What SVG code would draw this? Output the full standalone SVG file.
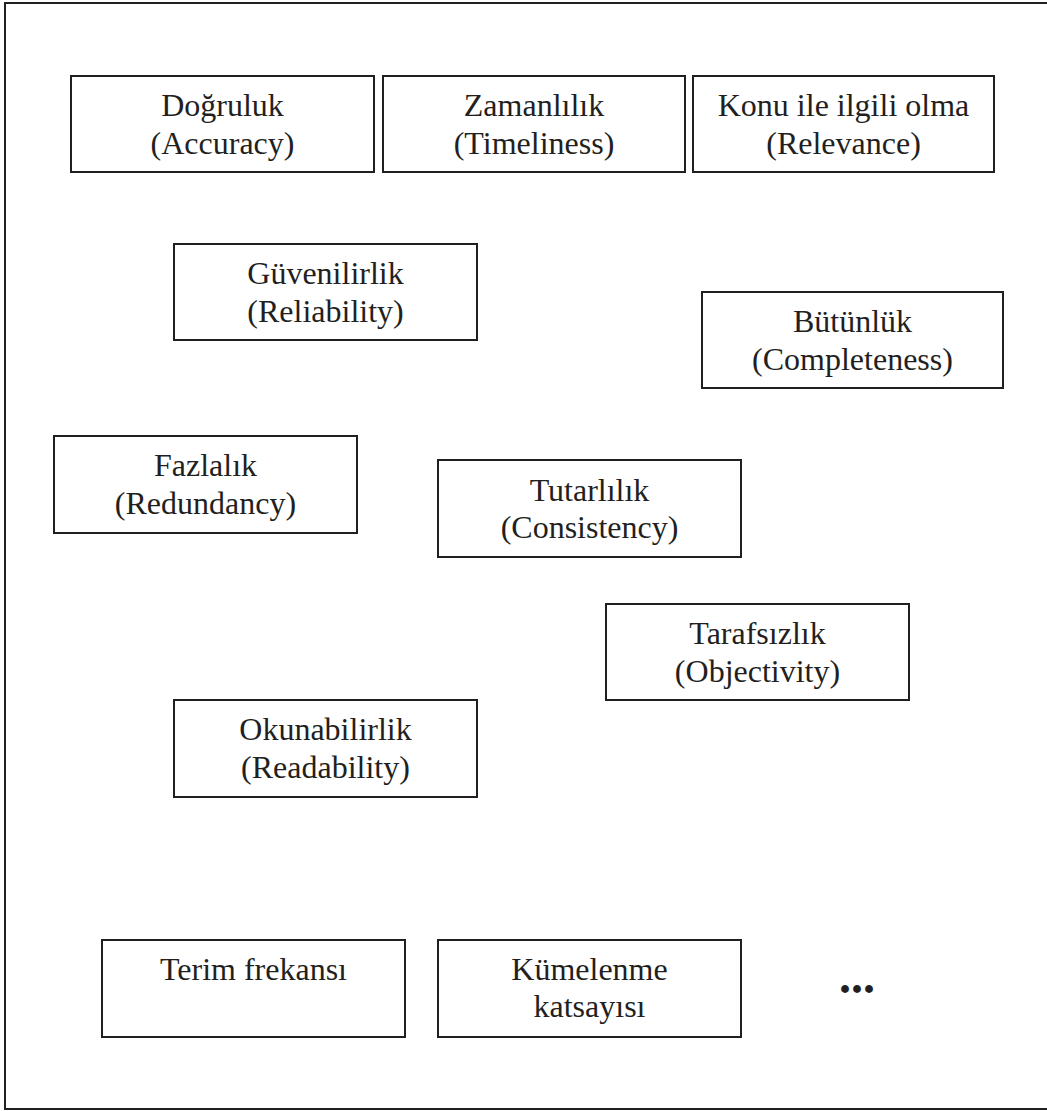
<svg xmlns="http://www.w3.org/2000/svg" width="1047" height="1111" viewBox="0 0 1047 1111">
<style>
.box{fill:#fff;stroke:#231f20;stroke-width:2}
.t{font-family:"Liberation Serif","Times New Roman",serif;font-size:32px;fill:#231f20;text-anchor:middle}
.frame{fill:none;stroke:#231f20;stroke-width:2}
</style>
<rect width="1047" height="1111" fill="#fff"/>
<path class="frame" d="M1048,3 H5 V1109 H1048"/>
<g id="connectors"></g>
<g id="dogruluk"><rect class="box" x="71" y="76" width="303" height="96"/><text class="t" x="222.5" y="116">Doğruluk</text><text class="t" x="222.5" y="154">(Accuracy)</text></g>
<g id="zamanlilik"><rect class="box" x="383" y="76" width="302" height="96"/><text class="t" x="534" y="116">Zamanlılık</text><text class="t" x="534" y="154">(Timeliness)</text></g>
<g id="konu"><rect class="box" x="693" y="76" width="301" height="96"/><text class="t" x="843.5" y="116">Konu ile ilgili olma</text><text class="t" x="843.5" y="154">(Relevance)</text></g>
<g id="guvenilirlik"><rect class="box" x="174" y="244" width="303" height="96"/><text class="t" x="325.5" y="284">Güvenilirlik</text><text class="t" x="325.5" y="322">(Reliability)</text></g>
<g id="butunluk"><rect class="box" x="702" y="292" width="301" height="96"/><text class="t" x="852.5" y="332">Bütünlük</text><text class="t" x="852.5" y="370">(Completeness)</text></g>
<g id="fazlalik"><rect class="box" x="54" y="436" width="303" height="97"/><text class="t" x="205.5" y="476">Fazlalık</text><text class="t" x="205.5" y="514">(Redundancy)</text></g>
<g id="tutarlilik"><rect class="box" x="438" y="460" width="303" height="97"/><text class="t" x="589.5" y="501">Tutarlılık</text><text class="t" x="589.5" y="538">(Consistency)</text></g>
<g id="tarafsizlik"><rect class="box" x="606" y="604" width="303" height="96"/><text class="t" x="757.5" y="644">Tarafsızlık</text><text class="t" x="757.5" y="682">(Objectivity)</text></g>
<g id="okunabilirlik"><rect class="box" x="174" y="700" width="303" height="97"/><text class="t" x="325.5" y="740">Okunabilirlik</text><text class="t" x="325.5" y="778">(Readability)</text></g>
<g id="terim"><rect class="box" x="102" y="940" width="303" height="97"/><text class="t" x="253.5" y="980">Terim frekansı</text></g>
<g id="kumelenme"><rect class="box" x="438" y="940" width="303" height="97"/><text class="t" x="589.5" y="980">Kümelenme</text><text class="t" x="589.5" y="1017">katsayısı</text></g>
<g id="ellipsis"><text x="839" y="993" style="font-family:'Liberation Serif','Times New Roman',serif;font-size:48px;font-weight:bold;fill:#231f20">...</text></g>
</svg>
